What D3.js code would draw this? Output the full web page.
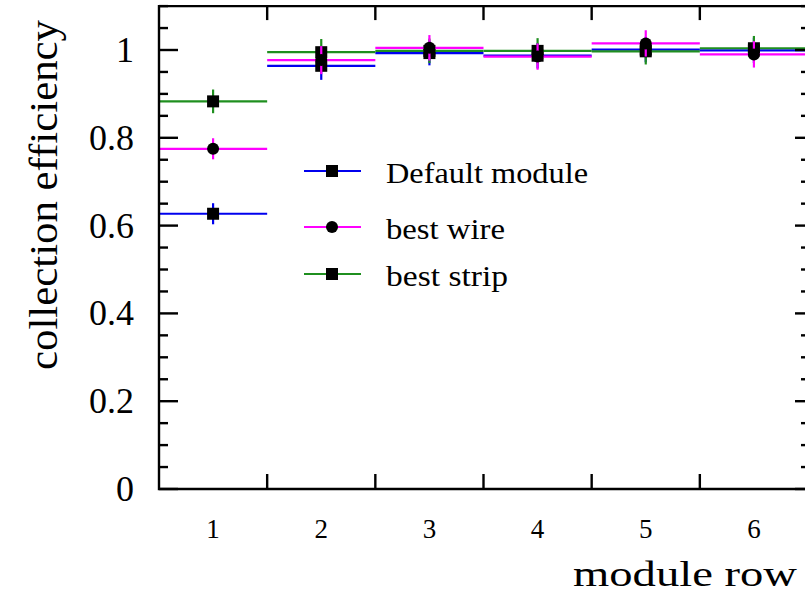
<!DOCTYPE html>
<html><head><meta charset="utf-8">
<script src="https://cdn.jsdelivr.net/npm/d3@7"></script>
<style>body{margin:0;background:#fff}svg{display:block}</style>
</head><body>
<script>
const rows = [1, 2, 3, 4, 5, 6];
const yTicks = [0, 0.2, 0.4, 0.6, 0.8, 1];
const defaultVals = [0.627, 0.964, 0.993, 0.987, 1.001, 0.999];
const defaultErr  = [0.024, 0.032, 0.028, 0.029, 0.029, 0.029];
const wireVals    = [0.775, 0.977, 1.005, 0.985, 1.015, 0.990];
const wireErr     = [0.024, 0.032, 0.029, 0.030, 0.030, 0.030];
const stripVals   = [0.883, 0.995, 0.998, 0.998, 0.997, 1.004];
const stripErr    = [0.027, 0.030, 0.028, 0.029, 0.030, 0.028];
const seriesNames = ["Default module", "best wire", "best strip"];

const W = 805, H = 595;
const font = "'Liberation Serif', 'DejaVu Serif', serif";
const svg = d3.select("body").append("svg").attr("width", W).attr("height", H);

const x = d3.scaleLinear().domain([0.5, 6.5]).range([159, 808]);
const y = d3.scaleLinear().domain([0, 1.1]).range([489, 6.1]);

const series = [
  {name: seriesNames[0], vals: defaultVals, err: defaultErr, color: "#0000ee", marker: "square"},
  {name: seriesNames[2], vals: stripVals, err: stripErr, color: "#1f8f1f", marker: "square"},
  {name: seriesNames[1], vals: wireVals, err: wireErr, color: "#ff00ff", marker: "circle"}
];

const plot = svg.append("g");
function drawMarker(g, type, cx, cy) {
  if (type === "square") {
    g.append("rect").attr("x", cx - 6).attr("y", cy - 6).attr("width", 12).attr("height", 12).attr("fill", "#000");
  } else {
    g.append("circle").attr("cx", cx).attr("cy", cy).attr("r", 6).attr("fill", "#000");
  }
}
series.forEach(s => {
  const g = plot.append("g");
  rows.forEach((r, i) => {
    g.append("line").attr("x1", x(r - 0.5)).attr("x2", x(r + 0.5))
      .attr("y1", y(s.vals[i])).attr("y2", y(s.vals[i]))
      .attr("stroke", s.color).attr("stroke-width", 2.2);
    g.append("line").attr("x1", x(r)).attr("x2", x(r))
      .attr("y1", y(s.vals[i] - s.err[i])).attr("y2", y(s.vals[i] + s.err[i]))
      .attr("stroke", s.color).attr("stroke-width", 2.2);
    drawMarker(g, s.marker, x(r), y(s.vals[i]));
  });
});

// frame
const ax = svg.append("g").attr("stroke", "#000").attr("stroke-width", 2.4).attr("fill", "none");
ax.append("path").attr("d", `M${x(6.5)},${y(1.1)}H${x(0.5)}V${y(0)}H${x(6.5)}V${y(1.1)}`);
const edges = d3.range(1.5, 6.5, 1);
edges.forEach(e => {
  ax.append("line").attr("x1", x(e)).attr("x2", x(e)).attr("y1", y(0)).attr("y2", y(0) - 15);
  ax.append("line").attr("x1", x(e)).attr("x2", x(e)).attr("y1", y(1.1)).attr("y2", y(1.1) + 14);
});
const minor = d3.range(0, 23).map(k => k * 0.05);
minor.forEach((v, k) => {
  const major = k % 4 === 0;
  const len = major ? 19 : 9;
  ax.append("line").attr("x1", x(0.5)).attr("x2", x(0.5) + len).attr("y1", y(v)).attr("y2", y(v));
  ax.append("line").attr("x1", x(6.5)).attr("x2", x(6.5) - (major ? 13 : 7)).attr("y1", y(v)).attr("y2", y(v));
});

// y tick labels
svg.append("g").selectAll("text").data(yTicks).join("text")
  .attr("x", 134).attr("y", d => y(d) + 12)
  .attr("text-anchor", "end").attr("font-family", font).attr("font-size", 36)
  .text(d => d3.format("")(d));

// x tick labels
svg.append("g").selectAll("text").data(rows).join("text")
  .attr("x", d => x(d)).attr("y", 538)
  .attr("text-anchor", "middle").attr("font-family", font).attr("font-size", 27)
  .text(d => d);

// axis titles
svg.append("text").attr("x", 797).attr("y", 586).attr("text-anchor", "end")
  .attr("font-family", font).attr("font-size", 36)
  .attr("textLength", 224).attr("lengthAdjust", "spacingAndGlyphs")
  .text("module row");
svg.append("text").attr("transform", "translate(57,20) rotate(-90)")
  .attr("x", 0).attr("y", 0).attr("text-anchor", "end")
  .attr("font-family", font).attr("font-size", 39)
  .attr("textLength", 350).attr("lengthAdjust", "spacingAndGlyphs")
  .text("collection efficiency");

// legend
const legend = [
  {name: seriesNames[0], color: "#0000ee", marker: "square", cy: 171, w: 202},
  {name: seriesNames[1], color: "#ff00ff", marker: "circle", cy: 227, w: 119},
  {name: seriesNames[2], color: "#1f8f1f", marker: "square", cy: 274, w: 122}
];
const lg = svg.append("g");
legend.forEach(l => {
  lg.append("line").attr("x1", 304).attr("x2", 361).attr("y1", l.cy).attr("y2", l.cy)
    .attr("stroke", l.color).attr("stroke-width", 2.2);
  drawMarker(lg, l.marker, 332, l.cy);
  lg.append("text").attr("x", 386).attr("y", l.cy + 12)
    .attr("font-family", font).attr("font-size", 30)
    .attr("textLength", l.w).attr("lengthAdjust", "spacingAndGlyphs")
    .text(l.name);
});
</script>
</body></html>
